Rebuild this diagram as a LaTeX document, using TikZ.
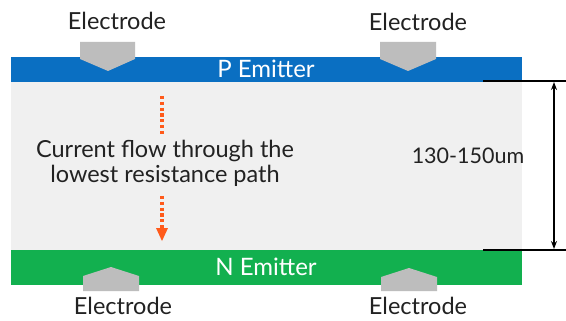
\documentclass[tikz,border=0pt]{standalone}
\usepackage{fontspec}
\setmainfont{Lato}
\usetikzlibrary{arrows.meta}
\definecolor{pblue}{HTML}{0A6FC2}
\definecolor{ngreen}{HTML}{12B04F}
\definecolor{bodygray}{HTML}{F0F0F0}
\definecolor{elgray}{HTML}{BDBDBD}
\definecolor{flow}{HTML}{FF5A1A}
\definecolor{txt}{HTML}{222222}
\tikzset{
  lbl/.style={font=\fontsize{23.5}{25}\selectfont, text=txt, inner sep=0pt},
  dimlbl/.style={font=\fontsize{21.5}{25}\selectfont, text=txt, inner sep=0pt},
  emit/.style={font=\fontsize{24}{26}\selectfont, text=white, inner sep=0pt},
  elec/.style={fill=elgray, draw=none},
  flowline/.style={draw=flow, line width=3.2pt, dash pattern=on 3.2pt off 2.6pt},
  dimline/.style={draw=black, line width=1.4pt},
}
\begin{document}
\begin{tikzpicture}[x=1pt, y=-1pt]
\useasboundingbox (0,0) rectangle (566,321);
\fill[white] (0,0) rectangle (566,321);
% layers
\fill[bodygray] (11,82) rectangle (522,250);
\fill[pblue] (11,57) rectangle (522,82);
\fill[ngreen] (11,250) rectangle (522,285);
% electrodes
\fill[elec] (80,42) -- (135,42) -- (135,59) -- (108,71) -- (80,59) -- cycle;
\fill[elec] (380,42) -- (436,42) -- (436,59) -- (408,71) -- (380,59) -- cycle;
\fill[elec] (83,291) -- (139,291) -- (139,276) -- (111,267) -- (83,276) -- cycle;
\fill[elec] (381,291) -- (437,291) -- (437,277) -- (409,268) -- (381,277) -- cycle;
% labels
\node[lbl] (e1) at (117,21) {Electrode};
\node[lbl] (e2) at (418,22) {Electrode};
\node[lbl] (e3) at (123,306) {Electrode};
\node[lbl] (e4) at (418,306) {Electrode};
\node[emit] (pe) at (266,69) {P Emitter};
\node[emit] (ne) at (266,267) {N Emitter};
\node[lbl, align=center] (cf) at (165,163) {Current flow through the\\lowest resistance path};
\node[dimlbl] (dim) at (468,156) {130-150um};
% flow arrows
\coordinate (f1a) at (162,96);
\coordinate (f1b) at (162,134);
\coordinate (f2a) at (162,196);
\coordinate (f2b) at (162,229);
\coordinate (tip) at (162,241);
\draw[flowline] (f1a) -- (f1b);
\draw[flowline] (f2a) -- (f2b);
\fill[flow] (156,228) -- (168,228) -- (tip) -- cycle;
% dimension
\coordinate (d1a) at (483,81);
\coordinate (d1b) at (566,81);
\coordinate (d2a) at (483,250);
\coordinate (d2b) at (566,250);
\coordinate (da) at (554,82);
\coordinate (db) at (554,249);
\draw[dimline] (d1a) -- (d1b);
\draw[dimline] (d2a) -- (d2b);
\draw[dimline, {Stealth[length=8pt,width=6pt]}-{Stealth[length=8pt,width=6pt]}] (da) -- (db);
\end{tikzpicture}
\end{document}
